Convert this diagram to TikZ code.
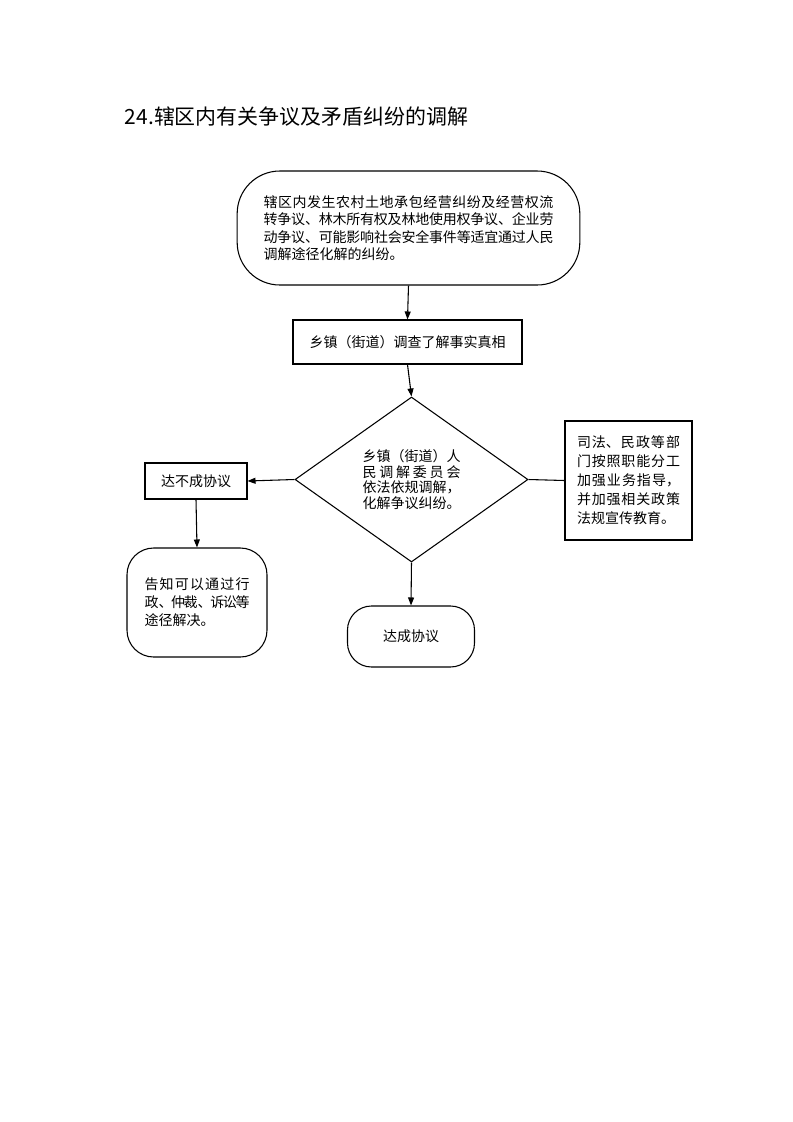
\documentclass[tikz,border=0pt]{standalone}
\usepackage{fontspec}
\setmainfont{Noto Sans CJK SC}
\usepackage{tikz}
\usetikzlibrary{shapes.geometric,arrows.meta}
\XeTeXlinebreaklocale "zh"
\XeTeXlinebreakskip=0pt plus 2pt minus 1.5pt
\setlength{\parindent}{0pt}

\tikzset{
  box/.style={draw, inner sep=0pt, align=center, font=\fontsize{10.5}{13}\selectfont},
  para/.style={align=justify, text width=#1},
}

\begin{document}
\begin{tikzpicture}[x=0.75pt, y=-0.75pt, line width=0.8pt, >={Triangle[length=6pt,width=4.5pt]}]
\useasboundingbox (0,0) rectangle (793,1122);
\node [anchor=west, font=\fontsize{15.7}{19}\selectfont] (title) at (120,117) {24.辖区内有关争议及矛盾纠纷的调解};
\node [box, rounded corners=32pt, minimum width=257pt, minimum height=85.5pt, para=217.5pt] (start) at (408.5,228) {辖区内发生农村土地承包经营纠纷及经营权流\linebreak 转争议、林木所有权及林地使用权争议、企业劳\linebreak 动争议、可能影响社会安全事件等适宜通过人民\linebreak 调解途径化解的纠纷。};
\node [box, minimum width=171.75pt, minimum height=33pt] (survey) at (407.5,342) {乡镇（街道）调查了解事实真相};
\node [box, diamond, minimum width=174.75pt, minimum height=123.75pt, para=73.5pt, font=\fontsize{10.5}{11.8}\selectfont] (mediate) at (411.5,479.5) {乡镇（街道）人\linebreak 民调解委员会\linebreak 依法依规调解，\linebreak 化解争议纠纷。};
\node [box, minimum width=76.5pt, minimum height=27pt] (fail) at (196,481) {达不成协议};
\node [box, rounded corners=20pt, minimum width=105pt, minimum height=81.75pt, para=78.75pt, font=\fontsize{10.5}{13.5}\selectfont] (inform) at (197,602.5) {告知可以通过行\linebreak 政、仲裁、诉讼等\linebreak 途径解决。};
\node [box, rounded corners=18pt, minimum width=95.25pt, minimum height=45.75pt] (agree) at (411,636.5) {达成协议};
\node [box, minimum width=95.25pt, minimum height=89.25pt, para=77.25pt, font=\fontsize{10.5}{14.3}\selectfont] (guide) at (628.5,480.5) {司法、民政等部\linebreak 门按照职能分工\linebreak 加强业务指导，\linebreak 并加强相关政策\linebreak 法规宣传教育。};
\draw [->] (start.south) -- (survey.north);
\draw [->] (survey.south) -- (mediate.north);
\draw [->] (mediate.west) -- (fail.east);
\draw [->] (fail.south) -- (inform.north);
\draw [->] (mediate.south) -- (agree.north);
\draw (mediate.east) -- (guide.west);
\end{tikzpicture}
\end{document}
